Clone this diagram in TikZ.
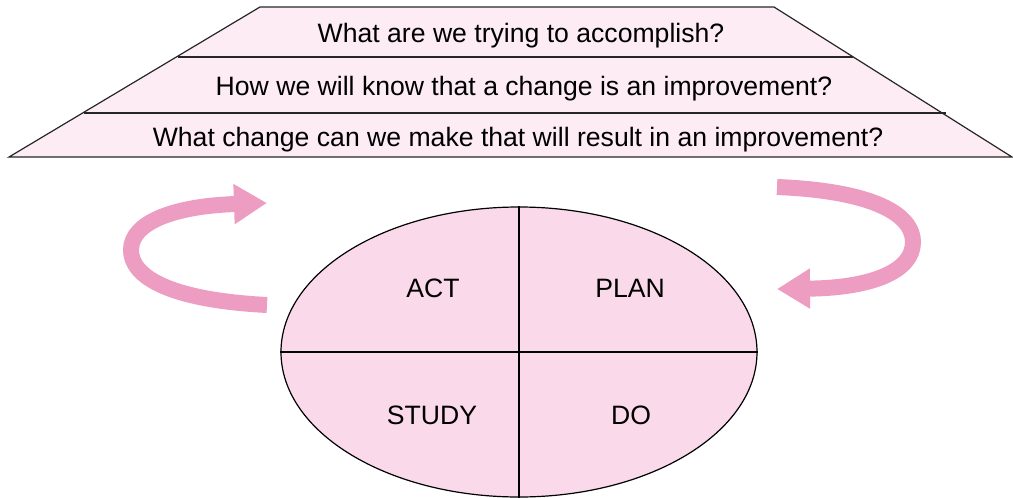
\documentclass[tikz,border=0pt]{standalone}
\usepackage{fontspec}
\setmainfont{Liberation Sans}
\usetikzlibrary{arrows.meta,shapes.geometric,positioning}
\definecolor{cyclepink}{RGB}{238,157,194}
\definecolor{pdsafill}{RGB}{250,218,234}
\definecolor{aimfill}{RGB}{253,236,243}

\begin{document}
\begin{tikzpicture}[x=1pt,y=-1pt,
    question/.style={font=\fontsize{26.6}{32}\selectfont, inner sep=0pt, anchor=base},
    phase/.style={font=\fontsize{26.6}{32}\selectfont, inner sep=0pt, anchor=base},
    cycle arrow/.style={cyclepink, line width=16pt, -{Triangle[length=33pt,width=38pt]}}]
\useasboundingbox (0,0) rectangle (1013,498);

% Draw the three questions as trapezoid
\draw[fill=aimfill, draw=black!85, line width=1.2pt] (260,7) -- (774,7) -- (1012,157) -- (9,157) -- cycle;
\draw[black!85, line width=1.2pt] (178,57) -- (853,57);
\draw[black!85, line width=1.2pt] (84,113) -- (946,113);

\node[question] (aim) at (521,42) {What are we trying to accomplish?};
\node[question] (measure) at (524,95) {How we will know that a change is an improvement?};
\node[question] (change) at (518,146) {What change can we make that will result in an improvement?};

% Draw PDSA cycle as ellipse
\node[draw, ellipse, fill=pdsafill, line width=1.2pt, minimum width=476pt, minimum height=290pt] (pdsa) at (519,352) {};
\draw[line width=1.2pt] (pdsa.north) -- (pdsa.south);
\draw[line width=1.2pt] (pdsa.west) -- (pdsa.east);

% Quadrant labels
\node[phase] (act) at (433,297) {ACT};
\node[phase] (plan) at (630,297) {PLAN};
\node[phase] (study) at (432,424) {STUDY};
\node[phase] (do) at (631,424) {DO};

% Add cycle arrows
\coordinate (leftstart) at (267,305);
\coordinate (leftend) at (267,203);
\coordinate (rightstart) at (777,187);
\coordinate (rightend) at (777,289);
\draw[cycle arrow] (leftstart) .. controls (170,300) and (131,277) .. (131,250)
    .. controls (131,222) and (175,206) .. (leftend);
\draw[cycle arrow] (rightstart) .. controls (875,191) and (913,215) .. (913,242)
    .. controls (913,272) and (870,288) .. (rightend);
\end{tikzpicture}
\end{document}
